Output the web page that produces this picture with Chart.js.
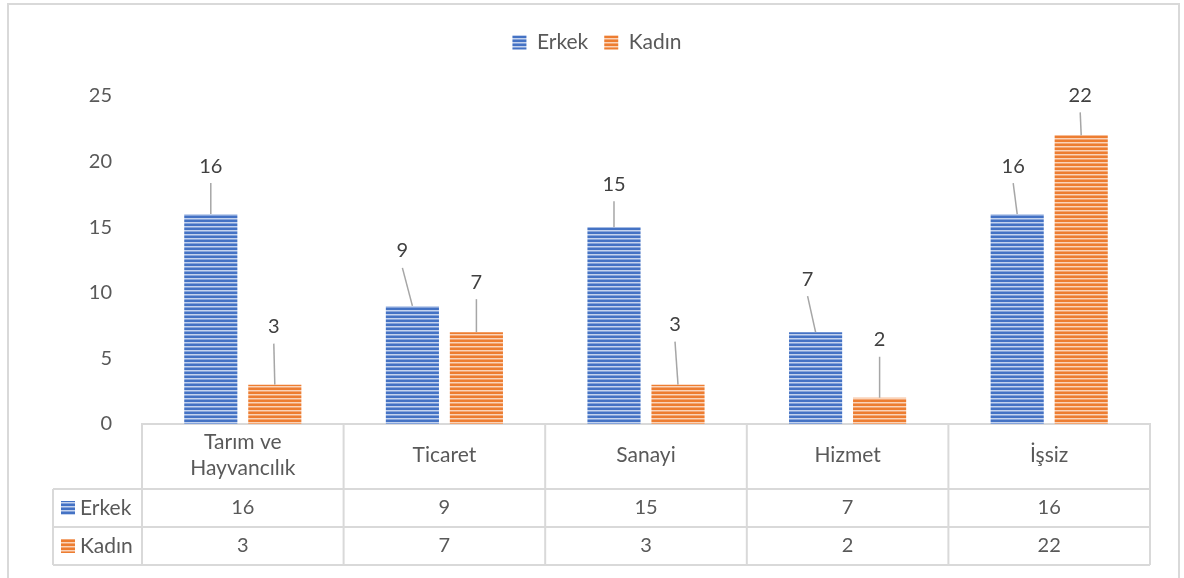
<!DOCTYPE html>
<html lang="tr">
<head>
<meta charset="utf-8">
<script src="https://cdn.jsdelivr.net/npm/chart.js@4.4.1/dist/chart.umd.min.js"></script>
<style>
  html, body { margin: 0; padding: 0; background: #fff; }
  #wrap { width: 1184px; height: 578px; }
</style>
</head>
<body>
<div id="wrap"><canvas id="chart" width="1184" height="578"></canvas></div>
<script>
const categories = [['Tarım ve', 'Hayvancılık'], 'Ticaret', 'Sanayi', 'Hizmet', 'İşsiz'];
const seriesNames = ['Erkek', 'Kadın'];
const erkek = [16, 9, 15, 7, 16];
const kadin = [3, 7, 3, 2, 22];
const yTicks = [0, 5, 10, 15, 20, 25];

// where each value label sits, in px from the top centre of its bar
const erkekLabelShift = [[0, -48], [-10, -55], [0, -43], [-8, -53], [-4, -48]];
const kadinLabelShift = [[-1, -58], [0, -50], [-3, -60], [0, -58], [-1, -40]];

const FONT = 'Lato';
const TEXT = '#595959';
const LINE = '#D9D9D9';

const canvas = document.getElementById('chart');
const ctx = canvas.getContext('2d');

function stripes(dark, mid, light) {
    const c = document.createElement('canvas');
    c.width = 8; c.height = 4;
    const g = c.getContext('2d');
    g.fillStyle = dark; g.fillRect(0, 0, 8, 2);
    g.fillStyle = light; g.fillRect(0, 2, 8, 1);
    g.fillStyle = mid; g.fillRect(0, 3, 8, 1);
    return ctx.createPattern(c, 'repeat');
}

const bluePattern = stripes('#4472C4', '#85A3DA', '#C4D3EE');
const orangePattern = stripes('#ED7D31', '#F3A673', '#FAD4BA');
const patterns = [bluePattern, orangePattern];

const frame = {
    id: 'frame',
    beforeDraw(chart) {
        const c = chart.ctx;
        c.save();
        c.strokeStyle = LINE;
        c.lineWidth = 2;
        c.strokeRect(8, 4, 1171, 600);
        c.restore();
    }
};

const legendGap = {
    id: 'legendGap',
    beforeLayout(chart) {
        const lg = chart.legend;
        if (lg && !lg._gapDone) {
            const fit = lg.fit;
            lg.fit = function () { fit.call(this); this.height += 33; };
            lg._gapDone = true;
        }
    }
};

const leaderLabels = {
    id: 'leaderLabels',
    afterDatasetsDraw(chart) {
        const c = chart.ctx;
        const shifts = [erkekLabelShift, kadinLabelShift];
        chart.data.datasets.forEach((ds, di) => {
            chart.getDatasetMeta(di).data.forEach((bar, i) => {
                const lx = bar.x + shifts[di][i][0];
                const ly = bar.y + shifts[di][i][1];
                c.save();
                c.strokeStyle = '#A6A6A6';
                c.lineWidth = 1.5;
                c.beginPath();
                c.moveTo(lx, ly + 17);
                c.lineTo(bar.x, bar.y);
                c.stroke();
                c.fillStyle = '#404040';
                c.font = '20px ' + FONT;
                c.textAlign = 'center';
                c.textBaseline = 'middle';
                c.fillText(String(ds.data[i]), lx, ly);
                c.restore();
            });
        });
    }
};

const dataTable = {
    id: 'dataTable',
    afterDraw(chart) {
        const c = chart.ctx;
        const area = chart.chartArea;
        const x = chart.scales.x;
        const top = area.bottom;
        const keyLeft = 53;
        const r1 = top + 65, r2 = r1 + 38, r3 = r2 + 38;
        const step = (area.right - area.left) / categories.length;

        c.save();
        c.strokeStyle = LINE;
        c.lineWidth = 2;
        const seg = (x1, y1, x2, y2) => { c.beginPath(); c.moveTo(x1, y1); c.lineTo(x2, y2); c.stroke(); };
        seg(keyLeft, r1, area.right, r1);
        seg(keyLeft, r2, area.right, r2);
        seg(keyLeft, r3, area.right, r3);
        seg(keyLeft, r1, keyLeft, r3);
        for (let i = 0; i <= categories.length; i++) {
            const xx = i < categories.length ? x.getPixelForValue(i) - step / 2 : area.right;
            seg(xx, top, xx, r3);
        }

        c.textBaseline = 'middle';
        const rows = [erkek, kadin];
        rows.forEach((vals, ri) => {
            const cy = (ri === 0 ? r1 : r2) + 19;
            c.fillStyle = patterns[ri];
            c.fillRect(61, cy - 7, 14, 14);
            c.fillStyle = TEXT;
            c.textAlign = 'left';
            c.font = '21px ' + FONT;
            c.fillText(seriesNames[ri], 80, cy);
            c.textAlign = 'center';
            c.font = '20px ' + FONT;
            vals.forEach((v, i) => c.fillText(String(v), x.getPixelForValue(i), cy));
        });
        c.restore();
    }
};

new Chart(canvas, {
    type: 'bar',
    data: {
        labels: categories,
        datasets: [
            { label: seriesNames[0], data: erkek, backgroundColor: bluePattern, borderWidth: 0 },
            { label: seriesNames[1], data: kadin, backgroundColor: orangePattern, borderWidth: 0 }
        ]
    },
    options: {
        responsive: false,
        animation: false,
        events: [],
        categoryPercentage: 0.635,
        barPercentage: 0.83,
        layout: { padding: { top: 16, left: 44, right: 34, bottom: 13 } },
        plugins: {
            legend: {
                position: 'top',
                labels: {
                    color: TEXT,
                    font: { family: FONT, size: 21 },
                    boxWidth: 14,
                    boxHeight: 14,
                    padding: 16
                }
            },
            tooltip: { enabled: false }
        },
        scales: {
            x: {
                grid: { display: false },
                border: { display: true, color: LINE, width: 2 },
                ticks: {
                    color: TEXT,
                    font: { family: FONT, size: 21, lineHeight: 1.25 },
                    maxRotation: 0,
                    autoSkip: false,
                    crossAlign: 'center',
                    padding: 10
                },
                afterFit(scale) { scale.height = 141; }
            },
            y: {
                min: yTicks[0],
                max: yTicks[yTicks.length - 1],
                grid: { display: false },
                border: { display: false },
                ticks: {
                    stepSize: yTicks[1] - yTicks[0],
                    color: TEXT,
                    font: { family: FONT, size: 20 },
                    padding: 22
                },
                afterFit(scale) { scale.width = 98; }
            }
        }
    },
    plugins: [frame, legendGap, leaderLabels, dataTable]
});
</script>
</body>
</html>
